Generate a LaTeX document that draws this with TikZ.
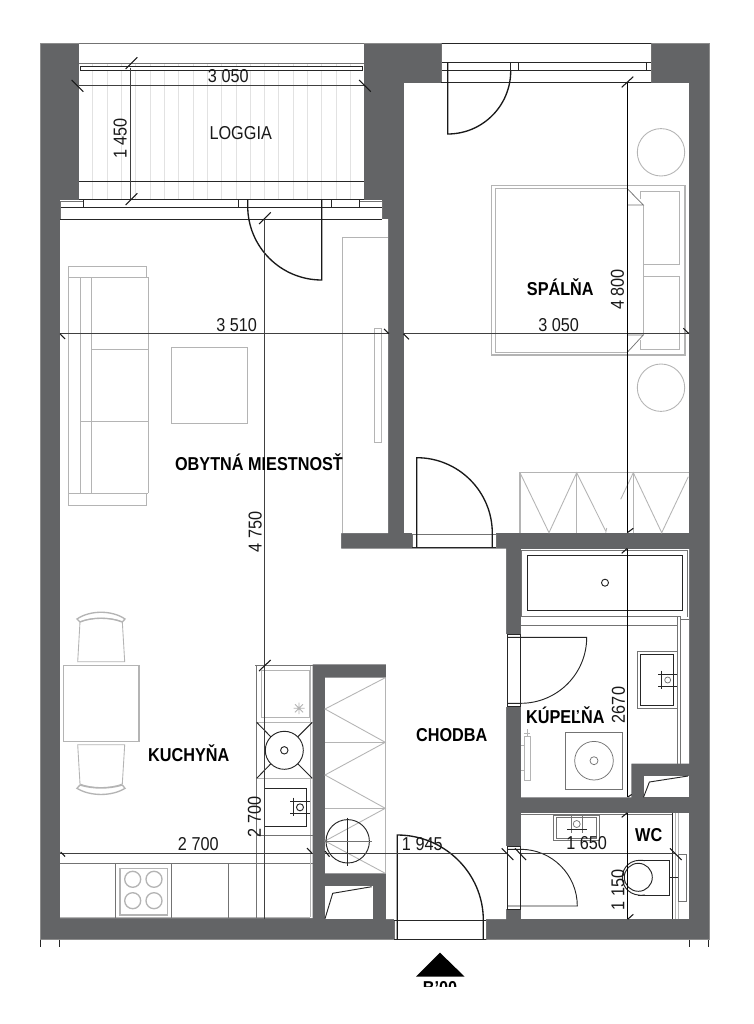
\documentclass[tikz,border=0pt]{standalone}
\usepackage{fontspec}
\setmainfont[FakeStretch=0.87]{Liberation Sans}
\definecolor{wallc}{HTML}{636466}
\definecolor{furn}{HTML}{B4B4B4}
\definecolor{hatch}{HTML}{E2E2E2}
\definecolor{dimc}{HTML}{404040}
\tikzset{
  wallfill/.style={fill=wallc,draw=none},
  roomfill/.style={fill=white,draw=none},
  furnline/.style={draw=furn,line width=0.65pt},
  furnthick/.style={draw=furn,line width=1pt},
  darkline/.style={draw=black!85,line width=0.7pt},
  thickdark/.style={draw=black!90,line width=1pt},
  midline/.style={draw=black!55,line width=0.55pt},
  dimline/.style={draw=dimc,line width=0.65pt},
  ticka/.style={draw=black!90,line width=0.8pt},
  numlab/.style={inner sep=0pt,text height=10pt,text depth=0pt,font=\fontsize{14}{16}\selectfont,text=black!90},
  roomlab/.style={inner sep=0pt,text height=10pt,text depth=0pt,font=\fontsize{14}{16}\selectfont\bfseries,text=black},
}
\begin{document}
\begin{tikzpicture}[x=0.75pt,y=-0.75pt]
\path[use as bounding box,fill=white] (0,0) rectangle (753,1024);
% ---- walls
\fill[wallfill] (40,43) rectangle (709,939.5);
\draw[draw=black!45,line width=0.4pt] (40,43) rectangle (709,939.5);
% ---- openings and rooms
\fill[roomfill] (79,43) rectangle (363.5,199.7);
\fill[roomfill] (60,199.7) rectangle (382.3,219);
\fill[roomfill] (441,43) rectangle (651,83);
\fill[roomfill] (403.5,83) rectangle (689,533.3);
\fill[roomfill] (60,219) -- (388,219) -- (388,533) -- (341,533) -- (341,548.5) -- (506,548.5) -- (506,919)
  -- (386,919) -- (386,873.3) -- (325,873.3) -- (325,677.7) -- (386,677.7) -- (386,664.3) -- (312.7,664.3) -- (312.7,918) -- (60,918) -- cycle;
\fill[roomfill] (521,549) -- (689,549) -- (689,763.5) -- (631.3,763.5) -- (631.3,797.3) -- (521,797.3) -- cycle;
\fill[roomfill] (521,813.3) rectangle (689,919);
\fill[roomfill] (325,886) rectangle (373.3,918.7);
\fill[roomfill] (643.5,776) rectangle (689,797.3);
\fill[roomfill] (412.3,533) rectangle (496,547.3);
\fill[roomfill] (394,919) rectangle (486,939.3);
\fill[roomfill] (506,634) rectangle (521,706.7);
\fill[roomfill] (506,846) rectangle (521,909.3);
% ---- loggia
\foreach \xx in {92.7,107,121.3,135.7,150,164.3,178.7,193,207.3,221.7,236,250.3,264.7,278.7,293,307.3,321.7,336,350.3}
  \draw[draw=hatch,line width=0.5pt] (\xx,63.3) -- (\xx,199.7);
\draw[midline] (79,43) -- (363.5,43);
\draw[midline] (79,63.3) -- (363.5,63.3);
\fill[white] (80.7,66.7) rectangle (362.3,70.3);
\draw[darkline] (80.7,66.7) rectangle (362.3,70.3);
\draw[darkline] (79,181) -- (363.5,181);
% ---- living room window and door
\draw[midline] (60,201) -- (83.3,201);
\draw[midline] (359.3,201) -- (382.3,201);
\draw[darkline] (79,199.7) -- (363.5,199.7);
\draw[darkline] (60,207) -- (382.3,207);
\draw[darkline] (60,219) -- (382.3,219);
\draw[midline] (60,201) -- (60,219);
\draw[midline] (382.3,201) -- (382.3,219);
\foreach \xx in {83.3,238.3,331,359.3} \draw[darkline] (\xx,199.7) -- (\xx,207);
\draw[thickdark] (321.7,199.7) -- (321.7,280) .. controls (280.8,280) and (247.7,246.9) .. (247.7,206) -- (247.7,199.7);
% ---- bedroom window and door
\draw[darkline] (441,43) -- (651,43);
\draw[darkline] (441,62.7) -- (651,62.7);
\draw[darkline] (441,70.7) -- (651,70.7);
\draw[darkline] (441,82.3) -- (651,82.3);
\draw[midline] (441,43) -- (441,82.3);
\draw[midline] (651,43) -- (651,82.3);
\foreach \xx in {510.7,518.3,646.7} \draw[darkline] (\xx,62.7) -- (\xx,70.7);
\draw[thickdark] (447.7,62.7) -- (447.7,134) .. controls (482.5,134) and (510.7,105.8) .. (510.7,71);
% ---- bedroom furniture
\draw[furnthick] (491.7,185.3) rectangle (685,355);
\draw[furnline] (627.3,188.7) -- (495,188.7) -- (495,352.3) -- (627.3,352.3);
\draw[furnline] (643.3,205) -- (643.3,335);
\draw[midline] (627.3,188.7) -- (643.3,205) -- (627.3,205);
\draw[midline] (627.3,335) -- (643.3,335) -- (627.3,352.3);
\draw[furnline] (640,191.7) -- (679.3,191.7) -- (679.3,264.3) -- (643.3,264.3);
\draw[furnline] (640,191.7) -- (640,199);
\draw[furnline] (643.3,276) -- (679.3,276) -- (679.3,349.3) -- (640,349.3) -- (640,340);
\draw[furnline] (661,152.3) circle[radius=23.7];
\draw[furnline] (661,387.7) circle[radius=23.7];
\draw[furnthick] (520,533) -- (520,472.7) -- (688.5,472.7);
\draw[furnline] (576.7,472.7) -- (576.7,533);
\draw[furnline] (633.3,472.7) -- (633.3,533);
\draw[furnline] (520,472.7) -- (549,532.7) -- (576.7,472.7) -- (605.7,531);
\draw[furnline] (606.7,528) -- (605.7,532.7);
\draw[furnline] (620.7,499.3) -- (633.3,472.7) -- (661.7,532.7) -- (688.3,476.7);
% ---- bedroom door
\draw[midline] (412.3,534) rectangle (496,547.3);
\draw[darkline] (412.3,547.3) -- (496,547.3);
\draw[thickdark] (416.7,547.3) -- (416.7,457.7) .. controls (458.5,457.7) and (492.3,491.5) .. (492.3,533.3) -- (492.3,547.3);
% ---- wardrobe, living room
\draw[furnline] (342,533) -- (342,237.3) -- (388,237.3);
\draw[furnline] (374.3,328.3) rectangle (381.7,442.3);
% ---- sofa and table
\draw[furnline] (68.3,266) rectangle (146,277.3);
\draw[furnline] (68.3,493.3) rectangle (146,505);
\draw[furnline] (68.3,277.3) -- (68.3,493.3);
\draw[furnline] (80,277.3) -- (80,493.3);
\draw[furnline] (91,277.3) -- (91,493.3);
\draw[furnline] (148.3,277.3) -- (148.3,493.3);
\draw[furnline] (91,277.3) -- (148.3,277.3);
\draw[furnline] (91,349.3) -- (148.3,349.3);
\draw[furnline] (80,421.7) -- (148.3,421.7);
\draw[furnline] (91,493.3) -- (148.3,493.3);
\draw[furnthick] (171.7,347.7) rectangle (247.7,423.3);
% ---- dining
\draw[furnthick] (63.3,665.7) rectangle (139,741.3);
\draw[furnline] (77.7,661.7) -- (80,621.7) .. controls (92,617) and (110,617) .. (122.3,621.7) -- (124.7,661.7) -- cycle;
\draw[furnthick] (77,619) .. controls (90,610) and (112,610) .. (125,619) -- (122.3,622) .. controls (110,617) and (92,617) .. (80,622) -- cycle;
\draw[furnline] (77.7,744.7) -- (80,784) .. controls (92,788.7) and (110,788.7) .. (122.3,784) -- (124.7,744.7) -- cycle;
\draw[furnthick] (77,788.3) .. controls (90,796.5) and (112,796.5) .. (125,788.3) -- (122.3,785) .. controls (110,789) and (92,789) .. (80,785) -- cycle;
% ---- kitchen
\draw[midline] (60,863.3) -- (312.7,863.3);
\draw[furnline] (60,917) -- (310,917);
\foreach \xx in {115,171,228.3} \draw[midline] (\xx,863.3) -- (\xx,918);
\draw[furnthick] (120,868.3) rectangle (167.3,915);
\foreach \xx in {132.7,154} \foreach \yy in {879.3,900.7} \draw[furnthick] (\xx,\yy) circle[radius=8];
\draw[midline] (256.7,665.7) -- (256.7,918);
\draw[midline] (255,665.7) -- (312.7,665.7);
\draw[furnline] (310,665.7) -- (310,917);
\draw[furnline] (261.7,670.7) rectangle (309,717.7);
\draw[furnline] (295,704.3) -- (303,712.3) (295,712.3) -- (303,704.3) (299,702.5) -- (299,714) (293.5,708.3) -- (304.5,708.3);
\draw[furnline] (256.7,722.3) -- (312.3,722.3);
\draw[furnline] (256.7,778.3) -- (312.3,778.3);
\draw[darkline] (284.3,750.3) circle[radius=19];
\draw[darkline] (284.3,750.3) circle[radius=3.7];
\draw[darkline] (256.7,722.3) -- (270.9,736.9) (312.3,722.3) -- (297.7,736.9) (256.7,778.3) -- (270.9,763.7) (312.3,778.3) -- (297.7,763.7);
\draw[darkline] (264.3,788.3) rectangle (306.7,826);
\draw[darkline] (300,807.3) circle[radius=3.5];
\draw[darkline] (290,801) -- (310,801) (290,813.3) -- (310,813.3) (293.3,797.7) -- (293.3,815.7);
\draw[midline] (256.7,835) -- (312.7,835);
% ---- closet
\draw[furnline] (385.3,677.7) -- (385.3,873.3);
\draw[furnline] (385.3,677.7) -- (325,709) -- (385.3,742.3) -- (325,775) -- (385.3,808.3) -- (325,841) -- (385.3,873.3);
\draw[furnline] (325,742.3) -- (385.3,742.3);
\draw[furnline] (325,808.3) -- (385.3,808.3);
\draw[darkline] (347.7,841.3) circle[radius=21.7];
\draw[darkline] (347.7,817.7) -- (347.7,865.7);
\draw[midline] (325,841.3) -- (371.7,841.3);
\draw[darkline] (325,918.7) -- (332.7,893.3) -- (371.7,886.7);
% ---- entry door
\draw[midline] (394,920) rectangle (486,939.3);
\draw[darkline] (394,920) -- (486,920);
\draw[darkline] (394,939.3) -- (486,939.3);
\draw[thickdark] (397.3,939.3) -- (397.3,835) .. controls (444.8,835) and (483.3,873.5) .. (483.3,920) -- (483.3,939.3);
% ---- bathroom
\draw[midline] (521.5,550) -- (687.5,550) -- (687.5,616.7);
\draw[midline] (521.5,550) -- (521.5,616.7);
\draw[darkline] (527.7,555) rectangle (682.3,610);
\draw[midline] (521,616.7) -- (677.3,616.7) -- (677.3,763.5);
\draw[midline] (677.3,616.7) -- (680,616.7) -- (680,763.5);
\draw[midline] (680,619) -- (688.5,619);
\draw[midline] (521,625) -- (677.3,625);
\draw[darkline] (605,582.7) circle[radius=3.5];
\draw[midline] (637.7,651.7) rectangle (677.3,708.3);
\draw[darkline] (640.7,654.3) rectangle (673.3,705);
\draw[midline] (667.7,680) circle[radius=3];
\draw[darkline] (658.3,674) -- (677.3,674) (658.3,686) -- (677.3,686) (661.7,670.7) -- (661.7,689.3);
\draw[midline] (565.7,732.3) rectangle (622.3,789.3);
\draw[midline] (594,760.7) circle[radius=19.3];
\draw[midline] (594,760.7) circle[radius=4];
\draw[furnline] (524.3,736.7) rectangle (530,780);
\draw[furnline] (527,729) -- (527,736.7) (524,733) -- (530,733) (521,745.7) -- (524.3,745.7) (521,770.7) -- (524.3,770.7);
\draw[darkline] (643.5,797.3) -- (649.4,782) -- (688,776);
% ---- bathroom door
\draw[darkline] (507.3,634) rectangle (520.7,706.7);
\draw[darkline] (507.3,637.3) -- (586.7,637.3) .. controls (586.7,673.8) and (557.2,703.3) .. (520.7,703.3) -- (507.3,703.3);
% ---- WC
\draw[midline] (521,814.3) -- (672.3,814.3);
\draw[darkline] (672.3,813.3) -- (672.3,919);
\draw[furnthick] (675.7,813.3) -- (675.7,919);
\draw[furnthick] (678.7,813.3) -- (678.7,919);
\draw[midline] (553.3,815) rectangle (599.3,840.7);
\draw[midline] (556.7,817.3) rectangle (596.7,838.3);
\draw[midline] (576.7,824) circle[radius=3.5];
\draw[midline] (571,815) -- (571,833) (582.7,815) -- (582.7,833);
\draw[darkline] (567.3,829.3) -- (586.7,829.3);
\draw[darkline] (638,860.7) -- (669,860.7) -- (669,895) -- (638,895);
\draw[darkline] (638.3,877.3) circle[radius=14];
\draw[darkline] (645,860.7) .. controls (630,858) and (622.3,868) .. (622.3,877.3) .. controls (622.3,887) and (630,897) .. (645,895);
\draw[midline] (678.3,854.3) rectangle (686.7,901.7);
\draw[darkline] (669,877.3) -- (678.3,877.3);
% ---- WC door
\draw[darkline] (507.3,846) rectangle (520.7,909.3);
\draw[darkline] (507.3,849.3) -- (520.7,849.3) .. controls (552,849.3) and (577.3,874.7) .. (577.3,906) -- (507.3,906);
% ---- dimension lines
\draw[dimline] (79,85.7) -- (363.5,85.7);
\draw[dimline] (130.7,67.7) -- (130.7,199);
\draw[dimline] (60,333.7) -- (388,333.7);
\draw[dimline] (403.5,333.7) -- (689,333.7);
\draw[dimline] (264.7,219) -- (264.7,919);
\draw[dimline] (60,853.3) -- (312.7,853.3);
\draw[dimline] (325,853.3) -- (506,853.3);
\draw[dimline] (521,853.3) -- (675,853.3);
\draw[draw=black,line width=0.6pt] (627.3,83) -- (627.3,533);
\draw[draw=black,line width=0.6pt] (627.3,549) -- (627.3,797.3);
\draw[draw=black,line width=0.6pt] (627.3,813.3) -- (627.3,919);
% ---- ticks
\draw[ticka] (71.7,80) -- (83.3,91.7) (359,80) -- (370.7,91.7);
\draw[ticka] (125.7,69) -- (137.3,57.3) (125.7,205) -- (137.3,193.3);
\draw[ticka] (259,224) -- (270.7,212.3) (259,671) -- (270.7,660);
\draw[ticka] (60,333.7) -- (65,339) (384,329) -- (389,333.7);
\draw[ticka] (403.3,333.7) -- (409,339.3) (683.3,328.3) -- (689,333.7);
\draw[ticka] (621.7,87.3) -- (633.3,76.7);
\draw[ticka] (627.3,532.7) -- (633.3,528.3) (621.7,553.3) -- (627.3,548.3);
\draw[ticka] (627.7,797) -- (631.7,794.5) (621.7,817.3) -- (627.3,812.7) (627.7,919.3) -- (633.3,914.3);
\draw[ticka] (60.7,852) -- (65,856.5) (307,848) -- (312,853.3);
\draw[ticka] (325,851) -- (329.5,856.7) (501.7,848.3) -- (513.3,860);
\draw[ticka] (515,848.3) -- (526,860) (670,848.3) -- (681.7,860);
% ---- bottom marks
\draw[darkline] (40,939.5) -- (40,946.7) (59.3,939.5) -- (59.3,946.7);
\draw[darkline] (689.3,939.5) -- (689.3,946.7) (708.3,939.5) -- (708.3,946.7);
\fill[black] (440,952.7) -- (464.7,976.7) -- (416,976.7) -- cycle;
\begin{scope}
\clip (400,978) rectangle (480,986.7);
\node[roomlab] (sectionmark) at (440,988.2) {B'00};
\end{scope}
% ---- texts
\node[numlab] (t3050a) at (228.3,76) {3 050};
\node[numlab,rotate=90] (t1450) at (120,138.3) {1 450};
\node[numlab] (tloggia) at (240.7,133.3) {LOGGIA};
\node[numlab] (t3510) at (236.7,324.7) {3 510};
\node[numlab] (t3050b) at (558.7,324.7) {3 050};
\node[numlab,rotate=90] (t4800) at (617.3,289.3) {4 800};
\node[numlab,rotate=90] (t4750) at (255,531.7) {4 750};
\node[numlab,rotate=90] (t2700v) at (254.3,816.7) {2 700};
\node[numlab] (t2700h) at (198.3,844) {2 700};
\node[numlab] (t1945) at (422.3,844) {1 945};
\node[numlab] (t1650) at (586.7,843) {1 650};
\node[numlab,rotate=90] (t2670) at (618.3,705) {2670};
\node[numlab,rotate=90] (t1150) at (617.7,890) {1 150};
\node[roomlab] (spalna) at (560.3,289) {SPÁLŇA};
\node[roomlab] (obytna) at (259,464.3) {OBYTNÁ MIESTNOSŤ};
\node[roomlab] (kuchyna) at (188.7,755) {KUCHYŇA};
\node[roomlab] (chodba) at (451.7,735) {CHODBA};
\node[roomlab] (kupelna) at (565.3,717.3) {KÚPEĽŇA};
\node[roomlab] (wc) at (648.7,835.3) {WC};
\end{tikzpicture}
\end{document}
